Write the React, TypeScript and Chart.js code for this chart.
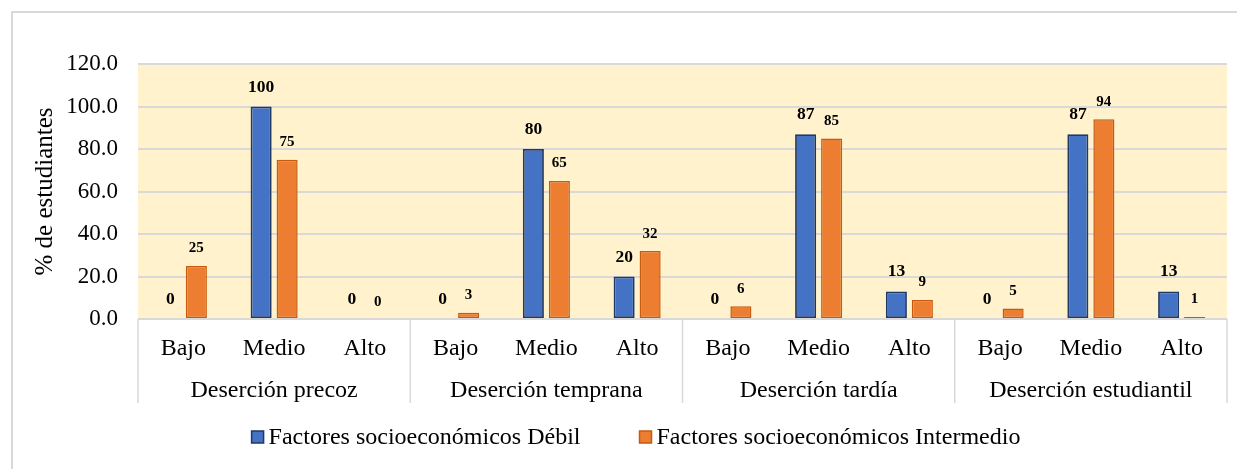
import { useEffect, useRef } from 'react';
import { Chart, registerables } from 'chart.js';

Chart.register(...registerables);

const groups = ['Deserción precoz', 'Deserción temprana', 'Deserción tardía', 'Deserción estudiantil'];
const levels = ['Bajo', 'Medio', 'Alto'];
const debilValues = [0, 100, 0, 0, 80, 20, 0, 87, 13, 0, 87, 13];
const intermedioValues = [25, 75, 0, 3, 65, 32, 6, 85, 9, 5, 94, 1];
const seriesNames = ['Factores socioeconómicos Débil', 'Factores socioeconómicos Intermedio'];
const yTicks = [0, 20, 40, 60, 80, 100, 120];
const yTitle = '% de estudiantes';

const FONT = "'Liberation Serif', 'Times New Roman', serif";
const W = 1237;
const H = 469;
const X_AXIS_H = 84;
const LEGEND_CENTER = 636;
const LEGEND_Y = 437;

const decorPlugin = {
  id: 'decor',
  beforeDraw(chart: any) {
    const { ctx, chartArea } = chart;
    ctx.save();
    ctx.fillStyle = '#FFF2CC';
    ctx.fillRect(chartArea.left, chartArea.top, chartArea.right - chartArea.left, chartArea.bottom - chartArea.top);
    ctx.restore();
  },
  afterDraw(chart: any) {
    const { ctx, chartArea, scales } = chart;
    const x = scales.x;
    const n = levels.length;
    ctx.save();
    // group separators
    ctx.strokeStyle = '#D9D9D9';
    ctx.lineWidth = 1.5;
    for (let g = 0; g <= groups.length; g++) {
      let px: number;
      if (g === 0) px = chartArea.left;
      else if (g === groups.length) px = chartArea.right;
      else px = (x.getPixelForValue(g * n - 1) + x.getPixelForValue(g * n)) / 2;
      ctx.beginPath();
      ctx.moveTo(px, chartArea.bottom);
      ctx.lineTo(px, chartArea.bottom + X_AXIS_H);
      ctx.stroke();
    }
    // group labels
    ctx.fillStyle = '#000';
    ctx.font = `24px ${FONT}`;
    ctx.textAlign = 'center';
    ctx.textBaseline = 'alphabetic';
    groups.forEach((name, g) => {
      const cx = (x.getPixelForValue(g * n) + x.getPixelForValue(g * n + n - 1)) / 2;
      ctx.fillText(name, cx, chartArea.bottom + 78);
    });
    // data labels
    chart.data.datasets.forEach((ds: any, di: number) => {
      const meta = chart.getDatasetMeta(di);
      ctx.font = di === 0 ? `bold 17.5px ${FONT}` : `bold 15px ${FONT}`;
      meta.data.forEach((el: any, i: number) => {
        ctx.fillText(String(ds.data[i]), el.x, el.y - (di === 0 ? 15 : 13.5));
      });
    });
    // legend
    ctx.font = `24px ${FONT}`;
    ctx.textAlign = 'left';
    ctx.textBaseline = 'middle';
    const box = 12;
    const gapText = 5;
    const gapItems = 59;
    const items = chart.data.datasets.map((ds: any) => ({
      label: ds.label,
      fill: ds.backgroundColor,
      stroke: ds.borderColor,
      w: ctx.measureText(ds.label).width,
    }));
    const total = items.reduce((s: number, it: any) => s + box + gapText + it.w, 0) + gapItems * (items.length - 1);
    let lx = LEGEND_CENTER - total / 2;
    items.forEach((it: any) => {
      ctx.fillStyle = it.fill;
      ctx.fillRect(lx, LEGEND_Y - box / 2, box, box);
      ctx.strokeStyle = it.stroke;
      ctx.lineWidth = 1.5;
      ctx.strokeRect(lx, LEGEND_Y - box / 2, box, box);
      ctx.fillStyle = '#000';
      ctx.fillText(it.label, lx + box + gapText, LEGEND_Y + 1);
      lx += box + gapText + it.w + gapItems;
    });
    ctx.restore();
  },
};

export default function App() {
  const ref = useRef<HTMLCanvasElement>(null);
  useEffect(() => {
    if (!ref.current) return;
    const labels = groups.flatMap(() => levels);
    const chart = new Chart(ref.current, {
      type: 'bar',
      data: {
        labels,
        datasets: [
          {
            label: seriesNames[0],
            data: debilValues,
            backgroundColor: '#4472C4',
            borderColor: '#1F3864',
            borderWidth: (c: any) => (c.raw === 0 ? 0 : 1.8),
            borderSkipped: false,
          },
          {
            label: seriesNames[1],
            data: intermedioValues,
            backgroundColor: '#ED7D31',
            borderColor: '#C55A11',
            borderWidth: (c: any) => (c.raw === 0 ? 0 : 1.5),
            borderSkipped: false,
          },
        ],
      },
      options: {
        responsive: false,
        animation: false,
        barPercentage: 0.81,
        categoryPercentage: 0.573,
        layout: { padding: { left: 0, top: 64, right: 10, bottom: 66 } },
        plugins: {
          legend: { display: false },
          tooltip: { enabled: false },
        },
        scales: {
          x: {
            grid: { display: false, drawTicks: false },
            border: { display: false },
            ticks: { color: '#000', font: { family: FONT, size: 24 }, padding: 15, autoSkip: false, maxRotation: 0 },
            afterFit: (s: any) => { s.height = X_AXIS_H; },
          },
          y: {
            min: 0,
            max: 120,
            afterBuildTicks: (s: any) => { s.ticks = yTicks.map((v) => ({ value: v })); },
            grid: { color: '#D9D9D9', lineWidth: 2, drawTicks: false },
            border: { display: false },
            ticks: {
              color: '#000',
              font: { family: FONT, size: 23 },
              padding: 20,
              callback: (v: any) => Number(v).toFixed(1),
            },
            title: {
              display: true,
              text: yTitle,
              color: '#000',
              font: { family: FONT, size: 25 },
              padding: { top: 30, bottom: 0 },
            },
            afterFit: (s: any) => { s.width = 138; },
          },
        },
      },
      plugins: [decorPlugin],
    } as any);
    return () => chart.destroy();
  }, []);
  return (
    <div style={{ position: 'fixed', left: 0, top: 0, width: W, height: H, overflow: 'hidden', background: '#fff' }}>
      <div style={{ position: 'absolute', left: 11, top: 11, width: W + 100, height: H + 100, border: '2px solid #D9D9D9', boxSizing: 'border-box' }} />
      <canvas ref={ref} width={W} height={H} style={{ position: 'absolute', left: 0, top: 0, width: W, height: H }} />
    </div>
  );
}
